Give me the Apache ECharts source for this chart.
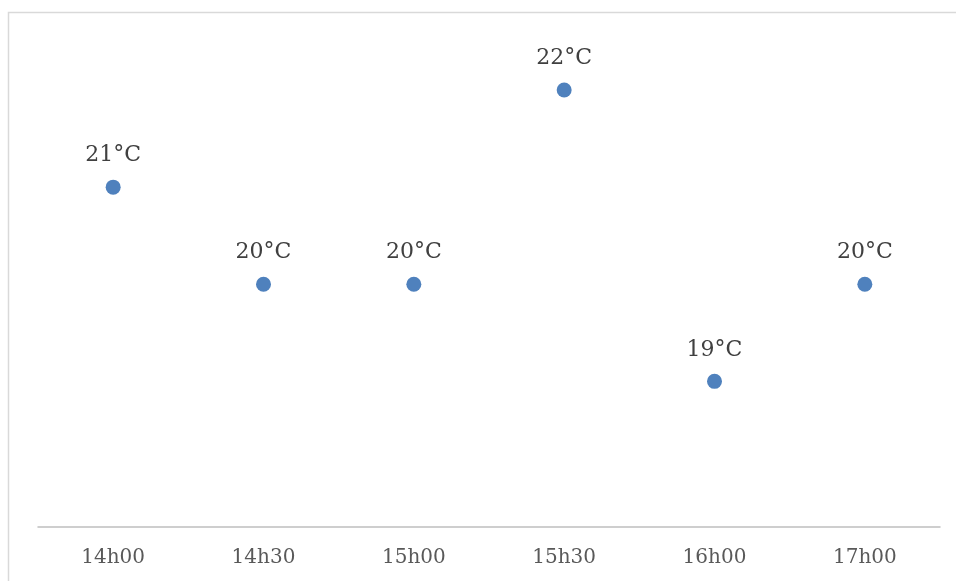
<!DOCTYPE html>
<html>
<head>
<meta charset="utf-8">
<script src="https://cdn.jsdelivr.net/npm/echarts@6/dist/echarts.min.js"></script>
<style>
  html, body { margin: 0; padding: 0; background: #ffffff; overflow: hidden; }
  #chart { width: 956px; height: 581px; }
</style>
</head>
<body>
<div id="chart"></div>
<script>
// Temperature readings over the afternoon
const times = ['14h00', '14h30', '15h00', '15h30', '16h00', '17h00'];
const temperatures = [21, 20, 20, 22, 19, 20];
const unit = '°C';

const chart = echarts.init(document.getElementById('chart'), null, { renderer: 'canvas' });

chart.setOption({
  backgroundColor: '#ffffff',
  animation: false,
  // chart-area frame: only the left and top edges fall inside the view
  graphic: [{
    type: 'polyline',
    silent: true,
    shape: { points: [[8.5, 600], [8.5, 12.5], [960, 12.5]] },
    style: { fill: 'none', stroke: '#d9d9d9', lineWidth: 1.5 }
  }],
  grid: { left: 38, right: 16, top: 41.5, bottom: 54 },
  xAxis: {
    type: 'category',
    data: times,
    boundaryGap: true,
    axisLine: { show: true, lineStyle: { color: '#bfbfbf', width: 1.5 } },
    axisTick: { show: false },
    axisLabel: {
      color: '#595959',
      fontFamily: 'DejaVu Serif',
      fontSize: 20,
      margin: 21
    },
    splitLine: { show: false }
  },
  yAxis: {
    type: 'value',
    min: 17.5,
    max: 22.5,
    show: false,
    splitLine: { show: false }
  },
  series: [{
    type: 'scatter',
    data: temperatures,
    symbol: 'circle',
    symbolSize: 15,
    itemStyle: { color: '#4f81bd', opacity: 1 },
    emphasis: { disabled: true },
    label: {
      show: true,
      position: 'top',
      distance: 13,
      formatter: p => p.value + unit,
      color: '#404040',
      fontFamily: 'DejaVu Serif',
      fontSize: 22
    }
  }]
});
</script>
</body>
</html>
